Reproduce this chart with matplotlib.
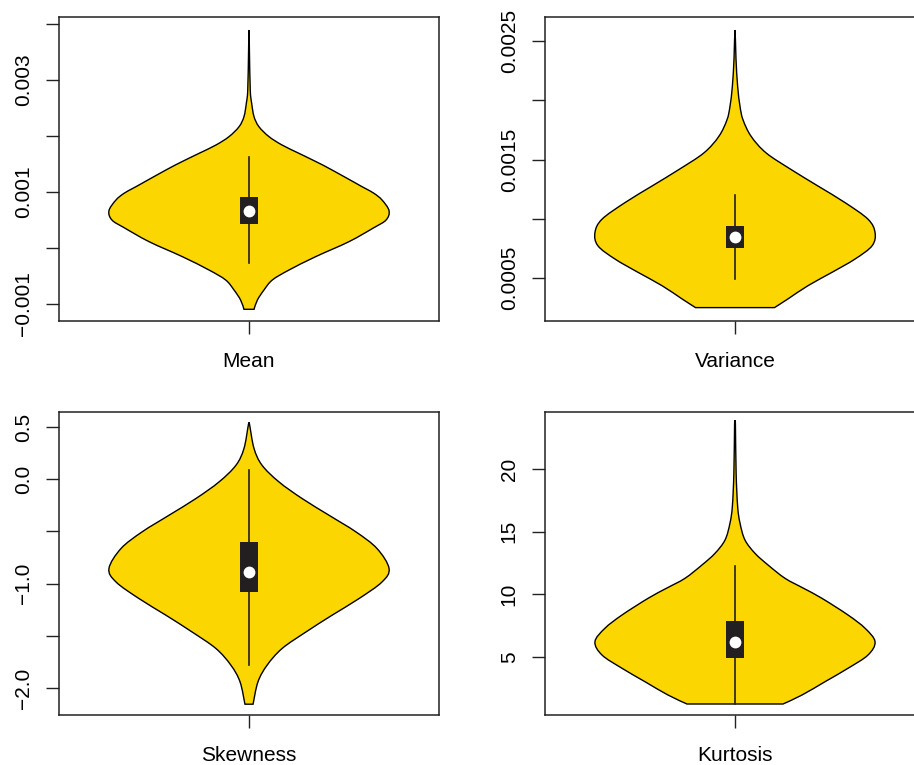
import numpy as np
import matplotlib
matplotlib.use('Agg')
import matplotlib.pyplot as plt
from matplotlib.patches import Rectangle, PathPatch
from matplotlib.path import Path

plt.rcParams['font.family'] = ['Liberation Sans', 'DejaVu Sans']

names = ['Mean', 'Variance', 'Skewness', 'Kurtosis']

# violin outlines: value along y, relative half width
mean_y = [0.00389, 0.00352, 0.00282, 0.002584, 0.002345, 0.002166, 0.001988, 0.001839,
          0.00169, 0.001541, 0.001393, 0.001095, 0.00098, 0.000857, 0.000666, 0.0005,
          0.00036, 0.000113, -0.000155, -0.000393, -0.000571, -0.00075, -0.000929,
          -0.001095]
mean_w = [0.0, 0.003, 0.009, 0.019, 0.036, 0.071, 0.143, 0.236, 0.357, 0.479, 0.593,
          0.807, 0.89, 0.95, 1.0, 0.979, 0.89, 0.714, 0.476, 0.286, 0.167, 0.107, 0.06,
          0.036]

var_y = [0.002592, 0.00235, 0.002116, 0.001948, 0.001836, 0.001696, 0.001556, 0.001416,
         0.001276, 0.001136, 0.000996, 0.000884, 0.000772, 0.00066, 0.000548, 0.000435,
         0.000324, 0.00025]
var_w = [0.0, 0.007, 0.019, 0.036, 0.057, 0.115, 0.222, 0.4, 0.593, 0.786, 0.95, 1.0,
         0.979, 0.857, 0.693, 0.521, 0.379, 0.282]

skew_y = [0.54, 0.517, 0.294, 0.134, -0.026, -0.185, -0.345, -0.505, -0.664, -0.855,
          -0.984, -1.143, -1.303, -1.463, -1.622, -1.782, -1.941, -2.155]
skew_w = [0.0, 0.005, 0.036, 0.093, 0.214, 0.379, 0.571, 0.764, 0.914, 1.0, 0.95, 0.786,
          0.593, 0.407, 0.236, 0.129, 0.064, 0.029]

kurt_y = [23.67, 23.52, 19.66, 17.0, 15.67, 14.34, 13.27, 12.34, 11.28, 10.48, 9.68, 8.35,
          7.29, 6.22, 5.16, 4.10, 3.03, 1.97, 1.25]
kurt_w = [0.0, 0.003, 0.008, 0.019, 0.036, 0.071, 0.143, 0.236, 0.357, 0.49, 0.621, 0.807,
          0.929, 1.0, 0.95, 0.807, 0.643, 0.479, 0.343]

# box statistics: lower whisker, q1, median, q3, upper whisker
mean_box = [-0.00027, 0.00043, 0.00066, 0.00091, 0.00162]
var_box = [0.00049, 0.00075, 0.00085, 0.000937, 0.0012]
skew_box = [-1.78, -1.08, -0.885, -0.60, 0.09]
kurt_box = [1.25, 4.92, 6.2, 7.87, 12.3]

ylims = [(-0.001304, 0.004125), (0.000137, 0.002703), (-2.2586, 0.6437), (0.372, 24.548)]
yticks = [[-0.001, 0.0, 0.001, 0.002, 0.003, 0.004],
          [0.0005, 0.001, 0.0015, 0.002, 0.0025],
          [-2.0, -1.5, -1.0, -0.5, 0.0, 0.5],
          [5, 10, 15, 20]]
ylabels = [['\u22120.001', '', '0.001', '', '0.003', ''],
           ['0.0005', '', '0.0015', '', '0.0025'],
           ['\u22122.0', '', '\u22121.0', '', '0.0', '0.5'],
           ['5', '10', '15', '20']]

profiles = [(mean_y, mean_w), (var_y, var_w), (skew_y, skew_w), (kurt_y, kurt_w)]
boxes = [mean_box, var_box, skew_box, kurt_box]


def smooth_outline(pts):
    # Catmull-Rom through the points, as cubic bezier segments
    pts = np.asarray(pts, dtype=float)
    ext = np.vstack([pts[0], pts, pts[-1]])
    verts = [pts[0]]
    codes = [Path.MOVETO]
    for k in range(1, len(ext) - 2):
        p0, p1, p2, p3 = ext[k - 1], ext[k], ext[k + 1], ext[k + 2]
        verts += [p1 + (p2 - p0) / 6, p2 - (p3 - p1) / 6, p2]
        codes += [Path.CURVE4] * 3
    return verts, codes


fig = plt.figure(figsize=(9.14, 7.65), dpi=100)
W, H = 914, 765
rects = [(59, 17, 380, 304), (545, 17, 380, 304), (59, 412, 380, 303), (545, 412, 380, 303)]

yellow = '#FCD600'
dark = '#231F20'
half = 0.398   # max half width in x units
boxhalf = 0.0256

for i in range(4):
    l, t, w, h = rects[i]
    ax = fig.add_axes([l / W, 1 - (t + h) / H, w / W, h / H])
    yv = np.array(profiles[i][0])
    wv = np.array(profiles[i][1]) * half
    # right side bottom->top, then left side top->bottom, then flat bottom
    right = np.column_stack([1 + wv[::-1], yv[::-1]])
    left = np.column_stack([1 - wv, yv])
    pts = np.vstack([right, left[1:]])
    verts, codes = smooth_outline(pts)
    verts.append(verts[0])
    codes.append(Path.CLOSEPOLY)
    ax.add_patch(PathPatch(Path(verts, codes), facecolor=yellow, edgecolor='black',
                           linewidth=1.0, zorder=2))

    lo, q1, med, q3, hi = boxes[i]
    ax.plot([1, 1], [lo, hi], color=dark, linewidth=1.2, zorder=3)
    ax.add_patch(Rectangle((1 - boxhalf, q1), 2 * boxhalf, q3 - q1,
                           facecolor=dark, edgecolor='none', zorder=4))
    ax.plot([1], [med], 'o', color='white', markersize=8.5, markeredgewidth=0, zorder=5)

    ax.set_xlim(0.46, 1.54)
    ax.set_ylim(*ylims[i])
    ax.set_xticks([1])
    ax.set_xticklabels([names[i]], fontsize=15)
    ax.set_yticks(yticks[i])
    ax.set_yticklabels(ylabels[i], fontsize=15, rotation=90, va='center')
    ax.tick_params(axis='both', direction='out', length=9.4, width=1.0, color='#222222')
    ax.tick_params(axis='y', pad=9.5)
    ax.tick_params(axis='x', pad=13)
    for s in ax.spines.values():
        s.set_linewidth(1.1)
        s.set_color('#222222')

fig.savefig('out.png', dpi=100)
